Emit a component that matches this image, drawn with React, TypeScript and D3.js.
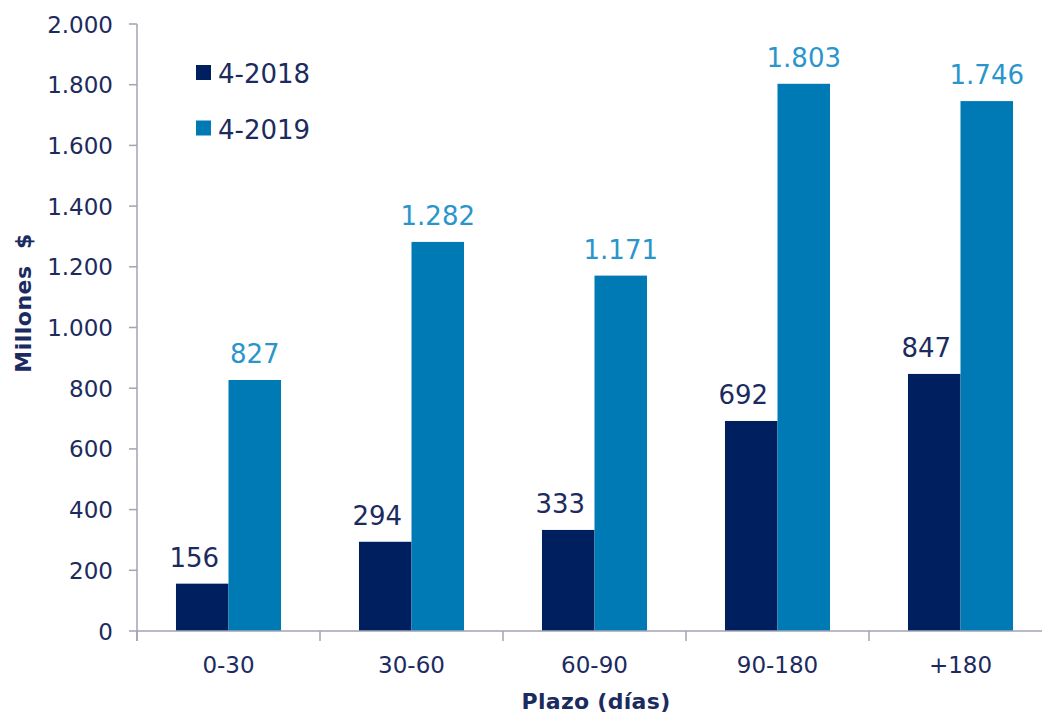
import React from "react";
import * as d3 from "d3";

const categories = ["0-30", "30-60", "60-90", "90-180", "+180"];
const seriesNames = ["4-2018", "4-2019"];
const values2018 = [156, 294, 333, 692, 847];
const values2019 = [827, 1282, 1171, 1803, 1746];
const yTicks = [0, 200, 400, 600, 800, 1000, 1200, 1400, 1600, 1800, 2000];

const W = 1042;
const H = 714;
const FONT = "'DejaVu Sans', sans-serif";
const NAVY = "#001F5F";
const BLUE = "#007AB5";
const TEXT = "#1C2B5E";
const LABEL_BLUE = "#2A95CB";
const AXIS = "#A3A3B3";

const fmt = (v: number) => {
  const s = String(v);
  return s.length > 3 ? s.slice(0, s.length - 3) + "." + s.slice(-3) : s;
};

export default function App() {
  const x0 = d3.scaleBand<string>().domain(categories).range([137, 1052]).padding(0);
  const bw = x0.bandwidth();
  const groupW = bw * 0.574;
  const x1 = d3
    .scaleBand<string>()
    .domain(seriesNames)
    .range([(bw - groupW) / 2, (bw + groupW) / 2])
    .padding(0);
  const y = d3.scaleLinear().domain([0, 2000]).range([631, 24]);

  const series = [
    { name: seriesNames[0], values: values2018, color: NAVY, labelColor: TEXT, dx: -8 },
    { name: seriesNames[1], values: values2019, color: BLUE, labelColor: LABEL_BLUE, dx: 0 },
  ];

  const tickXs = categories.map((c) => x0(c)!).concat([x0(categories[categories.length - 1])! + bw]);

  return (
    <svg
      width={W}
      height={H}
      style={{ position: "absolute", left: 0, top: 0, background: "#fff" }}
      fontFamily={FONT}
    >
      {series.map((s) =>
        s.values.map((v, i) => {
          const bx = x0(categories[i])! + x1(s.name)!;
          return (
            <rect
              key={s.name + i}
              x={bx}
              y={y(v)}
              width={x1.bandwidth()}
              height={y(0) - y(v)}
              fill={s.color}
            />
          );
        })
      )}
      {series.map((s) =>
        s.values.map((v, i) => {
          const cx = x0(categories[i])! + x1(s.name)! + x1.bandwidth() / 2 + s.dx;
          return (
            <text
              key={"l" + s.name + i}
              x={cx}
              y={y(v) - 17}
              textAnchor="middle"
              fontSize={26}
              fill={s.labelColor}
            >
              {fmt(v)}
            </text>
          );
        })
      )}
      <line x1={137} x2={137} y1={y(2000)} y2={y(0) + 10} stroke={AXIS} strokeWidth={1.5} />
      {yTicks.map((t) => (
        <g key={"yt" + t}>
          <line x1={129} x2={137} y1={y(t)} y2={y(t)} stroke={AXIS} strokeWidth={1.5} />
          <text x={113} y={y(t) + 8.5} textAnchor="end" fontSize={23} fill={TEXT}>
            {fmt(t)}
          </text>
        </g>
      ))}
      <line x1={137} x2={1052} y1={y(0)} y2={y(0)} stroke={AXIS} strokeWidth={1.5} />
      {tickXs.map((tx, i) => (
        <line key={"xt" + i} x1={tx} x2={tx} y1={y(0)} y2={y(0) + 10} stroke={AXIS} strokeWidth={1.5} />
      ))}
      {categories.map((c) => (
        <text
          key={"xl" + c}
          x={x0(c)! + bw / 2}
          y={673}
          textAnchor="middle"
          fontSize={23}
          fill={TEXT}
        >
          {c}
        </text>
      ))}
      <text
        transform={`translate(31,303) rotate(-90)`}
        textAnchor="middle"
        fontSize={22}
        fontWeight="bold"
        letterSpacing={0.5}
        fill={TEXT}
        style={{ whiteSpace: "pre" }}
      >
        {"Millones  $"}
      </text>
      <text x={596} y={709} textAnchor="middle" fontSize={22} fontWeight="bold" letterSpacing={0.3} fill={TEXT}>
        Plazo (días)
      </text>
      {series.map((s, i) => (
        <g key={"lg" + s.name} transform={`translate(196, ${65 + i * 55.5})`}>
          <rect x={0} y={0} width={15} height={15} fill={s.color} />
          <text x={22} y={18} fontSize={26} fill={TEXT}>
            {s.name}
          </text>
        </g>
      ))}
    </svg>
  );
}
